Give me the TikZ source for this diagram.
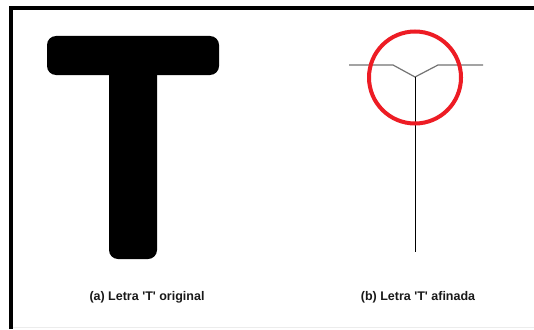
\documentclass[tikz,border=0pt]{standalone}
\usepackage{fontspec}
\setmainfont{Liberation Sans}
\definecolor{paintred}{RGB}{237,28,36}
\begin{document}
\begin{tikzpicture}[x=1pt,y=-1pt,
  frame/.style={line width=4pt,line cap=butt},
  thick glyph/.style={fill=black,rounded corners=9pt},
  graybar/.style={draw=gray!90!black,line width=1.2pt},
  stemline/.style={draw=black,line width=1pt},
  ring/.style={draw=paintred,line width=4pt},
  caption/.style={font=\fontsize{12.5}{14}\selectfont\bfseries,text=black!90,inner sep=0pt}]
\useasboundingbox (0,0) rectangle (534,329);
\fill[white] (0,0) rectangle (534,329);
% frame
\draw[gray!15,line width=0.8pt] (11,327.5) -- (534,327.5);
\draw[frame] (11,329) -- (11,8) -- (534,8);
% thick T
\fill[thick glyph] (47,36) rectangle (219,75);
\fill[thick glyph] (109,60) rectangle (157,259);
% thin T
\coordinate (l1) at (349,65);
\coordinate (l2) at (393,65);
\coordinate (j) at (415,77);
\coordinate (r2) at (438,65);
\coordinate (r1) at (483,65);
\coordinate (b) at (415,252);
\draw[graybar] (l1) -- (l2) -- (j) -- (r2) -- (r1);
\draw[stemline] (j) -- (b);
\node[ring,circle,minimum size=92pt,inner sep=0pt] (c) at (415,77.5) {};
% captions
\node[caption] (ca) at (147,297) {(a) Letra \textquotesingle T\textquotesingle\ original};
\node[caption] (cb) at (418,297) {(b) Letra \textquotesingle T\textquotesingle\ afinada};
\end{tikzpicture}
\end{document}
